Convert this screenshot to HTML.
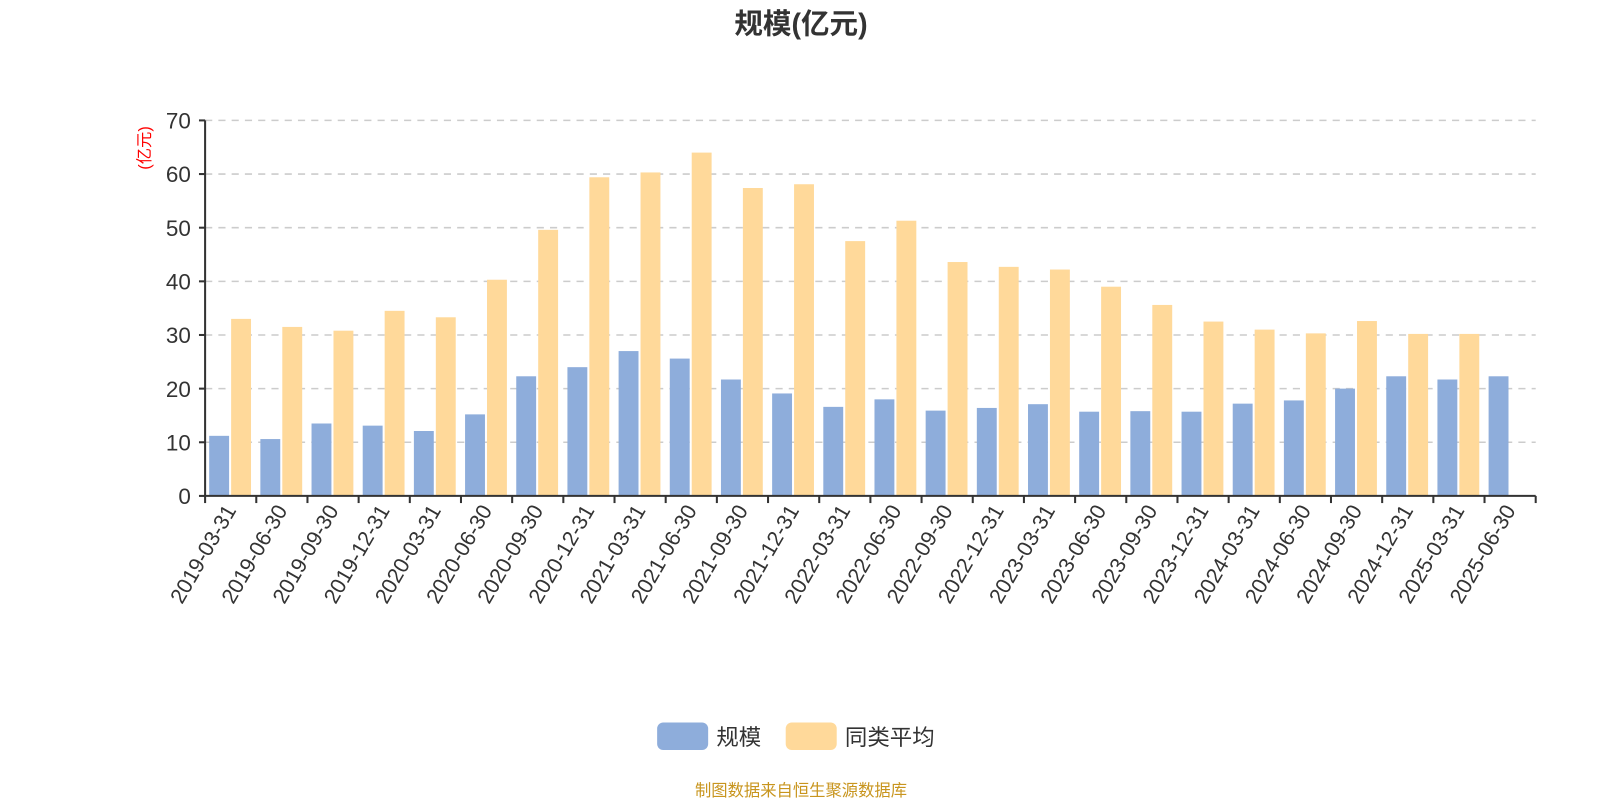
<!DOCTYPE html>
<html><head><meta charset="utf-8"><style>
body{margin:0;background:#fff;}
svg{display:block;font-family:"Liberation Sans","Noto Sans CJK SC",sans-serif;}
</style></head><body>
<svg id="chart" width="1600" height="800">
<g transform="scale(1.0204)">
<text x="785" y="33" text-anchor="middle" font-size="28" font-weight="bold" fill="#333">规模(亿元)</text>
<text transform="translate(147,145) rotate(-90)" text-anchor="middle" font-size="16" fill="#f00">(亿元)</text>
<g id="grid"></g><g id="bars"></g><g id="axes"></g>
<g>
<rect x="644" y="708" width="50" height="27" rx="6" fill="#8eaddb"/>
<text x="702" y="730" font-size="22" fill="#333">规模</text>
<rect x="770" y="708" width="50" height="27" rx="6" fill="#ffd99a"/>
<text x="828" y="730" font-size="22" fill="#333">同类平均</text>
</g>
<text x="785" y="780" text-anchor="middle" font-size="16" fill="#c8951e">制图数据来自恒生聚源数据库</text>
</g>
</svg>
<script>
const categories=["2019-03-31","2019-06-30","2019-09-30","2019-12-31","2020-03-31","2020-06-30","2020-09-30","2020-12-31","2021-03-31","2021-06-30","2021-09-30","2021-12-31","2022-03-31","2022-06-30","2022-09-30","2022-12-31","2023-03-31","2023-06-30","2023-09-30","2023-12-31","2024-03-31","2024-06-30","2024-09-30","2024-12-31","2025-03-31","2025-06-30"];
const scaleValues=[11.2,10.6,13.5,13.1,12.1,15.2,22.3,24.0,27.0,25.6,21.7,19.1,16.6,18.0,15.9,16.4,17.1,15.7,15.8,15.7,17.2,17.8,20.0,22.3,21.7,22.3];
const avgValues=[33.0,31.5,30.8,34.5,33.3,40.3,49.6,59.4,60.3,64.0,57.4,58.1,47.5,51.3,43.6,42.7,42.2,39.0,35.6,32.5,31.0,30.3,32.6,30.2,30.2,null];
const yTicks=[0,10,20,30,40,50,60,70];
const NS="http://www.w3.org/2000/svg";
const X0=201,X1=1505,Y0=486,Y70=118;
const band=(X1-X0)/categories.length;
const y=v=>Y0-(v/70)*(Y0-Y70);
const xb=i=>X0+i*band;
function mk(t,a,p){const e=document.createElementNS(NS,t);for(const k in a)e.setAttribute(k,a[k]);p.appendChild(e);return e;}
const grid=document.getElementById('grid'),bars=document.getElementById('bars'),axes=document.getElementById('axes');
yTicks.forEach(v=>{
  if(v>0){const g=mk('line',{x1:X0,x2:X1,y1:y(v),y2:y(v),stroke:'#ccc','stroke-width':1.5,'stroke-dasharray':'7,6'},grid);
  
  }
  const t=mk('line',{x1:X0-6,x2:X0,y1:y(v),y2:y(v),stroke:'#333','stroke-width':2},axes);
  
  
  const l=mk('text',{x:X0-14,y:y(v)+8,'text-anchor':'end','font-size':22,fill:'#333'},axes);l.textContent=v;
  
  
});
const bw=19.5;
categories.forEach((c,i)=>{
  const bx=xb(i)+4;
  if(scaleValues[i]!=null){const r=mk('rect',{x:bx,y:y(scaleValues[i]),width:bw,height:Y0-y(scaleValues[i]),fill:'#8eaddb'},bars);
  
  }
  if(avgValues[i]!=null){const r=mk('rect',{x:bx+bw+2,y:y(avgValues[i]),width:bw,height:Y0-y(avgValues[i]),fill:'#ffd99a'},bars);
  
  }
  const lx=xb(i)+band/2;
  const l=mk('text',{transform:`translate(${lx+6},${Y0+14}) rotate(-60)`,'text-anchor':'end','font-size':21,fill:'#333'},axes);l.textContent=c;
  
  
});
for(let i=0;i<=categories.length;i++){const t=mk('line',{x1:xb(i),x2:xb(i),y1:Y0,y2:Y0+7,stroke:'#333','stroke-width':2},axes);
  
  }
const ya=mk('line',{x1:X0,x2:X0,y1:Y70,y2:Y0,stroke:'#333','stroke-width':2},axes);


const xa=mk('line',{x1:X0,x2:X1,y1:Y0,y2:Y0,stroke:'#333','stroke-width':2},axes);


</script>
</body></html>
